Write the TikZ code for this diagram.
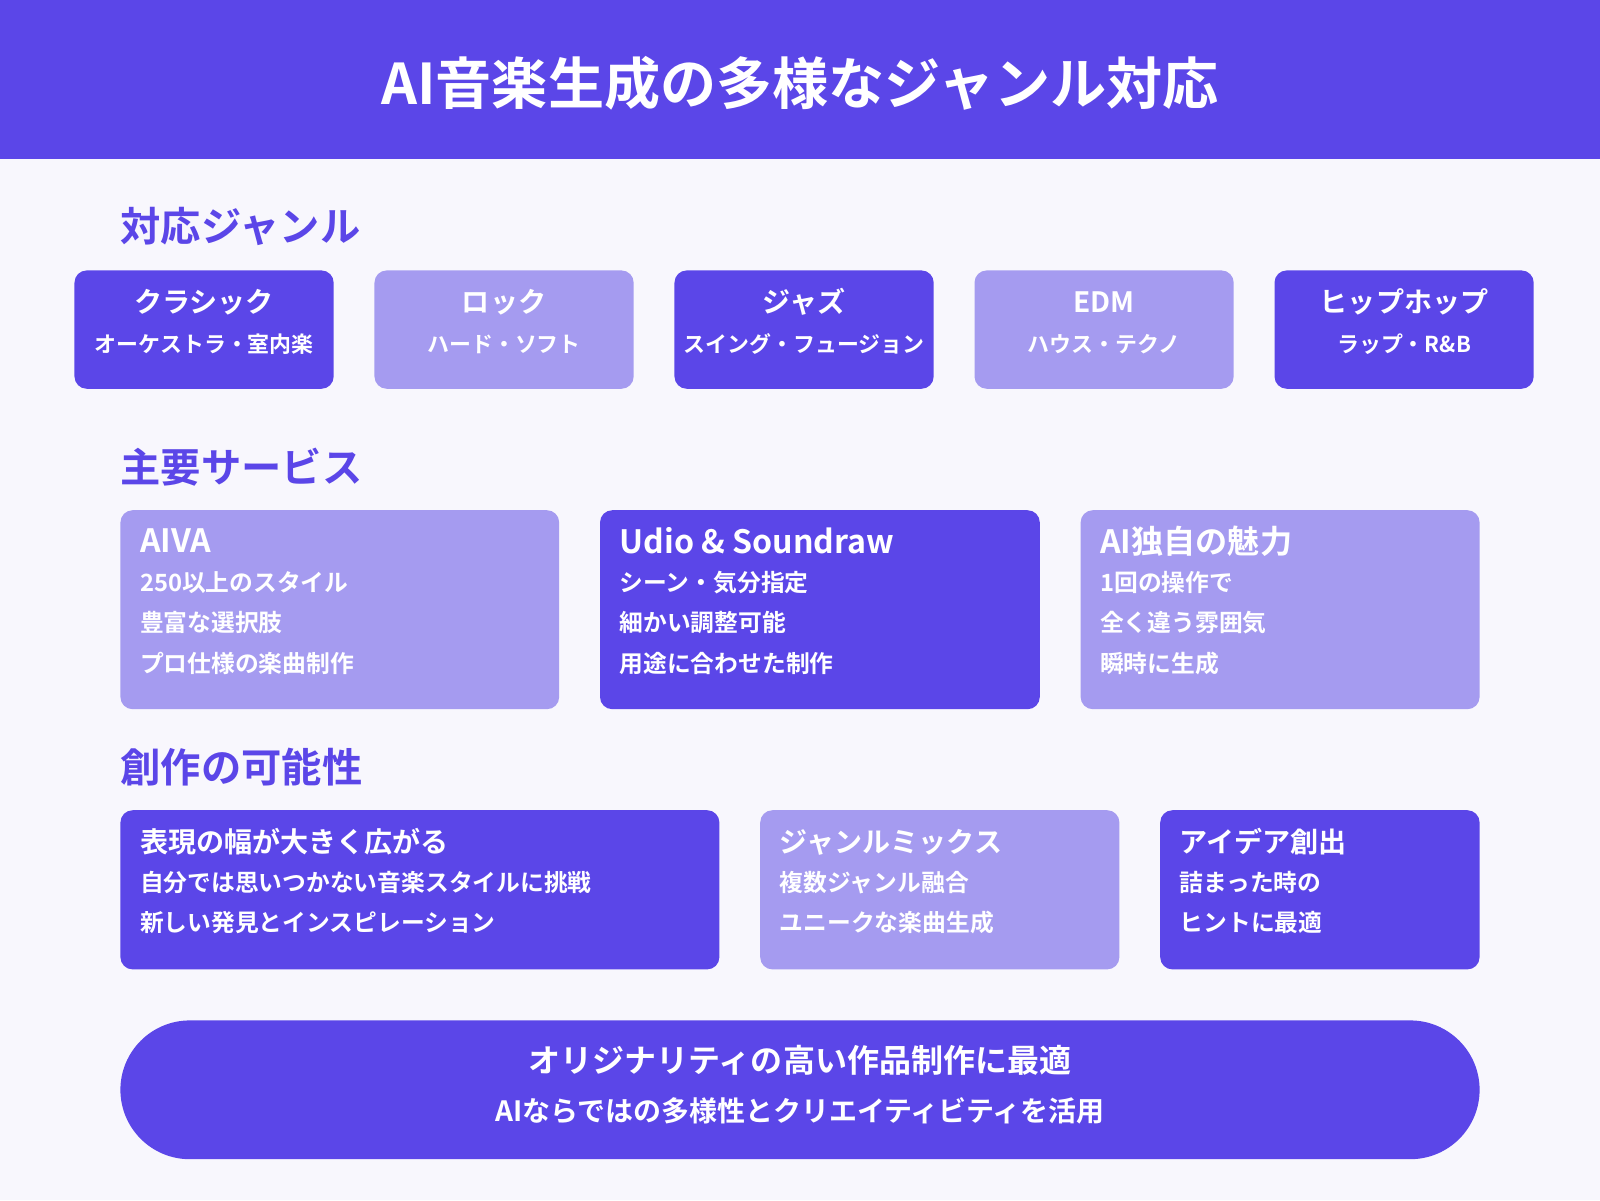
\documentclass[tikz,border=0pt]{standalone}
\usepackage{fontspec}
\setmainfont{Noto Sans CJK JP}[BoldFont={* Bold}]
\definecolor{dk}{HTML}{5B46E8}
\definecolor{lt}{HTML}{A59BF0}
\definecolor{bg}{HTML}{F8F7FD}
\newcommand{\fs}[1]{\fontsize{#1}{#1}\selectfont\bfseries}
\begin{document}
\begin{tikzpicture}[x=1pt,y=-1pt,
 bx/.style={rounded corners=12pt,draw=none},
 tt/.style={text=white,inner sep=0pt},
 hd/.style={text=dk,anchor=west,inner sep=0pt,font=\fs{39.5}}]
\fill[bg] (0,0) rectangle (1568,1176);
\useasboundingbox (0,0) rectangle (1568,1176);
\fill[dk] (0,0) rectangle (1568,156);
\node[tt,font=\fs{55}] (title) at (784,82) {AI音楽生成の多様なジャンル対応};
\node[hd] (h1) at (118,222) {対応ジャンル};
\foreach \x/\c/\a/\b [count=\i] in {73/dk/クラシック/オーケストラ・室内楽,367/lt/ロック/ハード・ソフト,661/dk/ジャズ/スイング・フュージョン,955/lt/EDM/ハウス・テクノ,1249/dk/ヒップホップ/ラップ・R\&B}{
 \fill[\c,bx] (\x,265) rectangle ++(254,116);
 \node[tt,font=\fs{27.5}] (g\i) at (\x+127,296) {\a};
 \node[tt,font=\fs{21.5}] (s\i) at (\x+127,337) {\b};
}
\node[hd] (h2) at (118,458) {主要サービス};
\foreach \x/\w/\c/\a/\p/\q/\r [count=\i] in {118/430/lt/AIVA/250以上のスタイル/豊富な選択肢/プロ仕様の楽曲制作,588/431/dk/Udio \& Soundraw/シーン・気分指定/細かい調整可能/用途に合わせた制作,1059/391/lt/AI独自の魅力/1回の操作で/全く違う雰囲気/瞬時に生成}{
 \fill[\c,bx] (\x,500) rectangle ++(\w,195);
 \node[tt,anchor=west,font=\fs{31.5}] (t\i) at (\x+19,530) {\a};
 \node[tt,anchor=west,font=\fs{23.3}] at (\x+19,571) {\p};
 \node[tt,anchor=west,font=\fs{23.3}] at (\x+19,610) {\q};
 \node[tt,anchor=west,font=\fs{23.3}] at (\x+19,650) {\r};
}
\node[hd] (h3) at (118,752) {創作の可能性};
\foreach \x/\w/\c/\a/\p/\q [count=\i] in {118/587/dk/表現の幅が大きく広がる/自分では思いつかない音楽スタイルに挑戦/新しい発見とインスピレーション,745/352/lt/ジャンルミックス/複数ジャンル融合/ユニークな楽曲生成,1137/313/dk/アイデア創出/詰まった時の/ヒントに最適}{
 \fill[\c,bx] (\x,794) rectangle ++(\w,156);
 \node[tt,anchor=west,font=\fs{27.5}] (c\i) at (\x+19,825) {\a};
 \node[tt,anchor=west,font=\fs{23.3}] at (\x+19,865) {\p};
 \node[tt,anchor=west,font=\fs{23.3}] at (\x+19,904) {\q};
}
\fill[dk,rounded corners=68pt] (118,1000) rectangle (1450,1136);
\node[tt,font=\fs{31.4}] (p1) at (784,1039) {オリジナリティの高い作品制作に最適};
\node[tt,font=\fs{27.4}] (p2) at (784,1089) {AIならではの多様性とクリエイティビティを活用};
\end{tikzpicture}
\end{document}
